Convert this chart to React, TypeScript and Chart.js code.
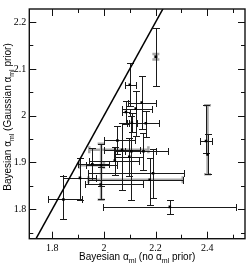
import React, { useEffect, useRef } from "react";
import { Chart, registerables } from "chart.js";

Chart.register(...registerables);

// Axis ranges and ticks
const X_MIN = 1.711;
const X_MAX = 2.546;
const Y_MIN = 1.737;
const Y_MAX = 2.228;
const xMajorTicks = [1.8, 2.0, 2.2, 2.4];
const xTickLabels = ["1.8", "2", "2.2", "2.4"];
const xMinorTicks = [1.9, 2.1, 2.3, 2.5];
const yMajorTicks = [1.8, 1.9, 2.0, 2.1, 2.2];
const yTickLabels = ["1.8", "1.9", "2", "2.1", "2.2"];
const yMinorTicks = [1.75, 1.85, 1.95, 2.05, 2.15];

// Titles (text, subscript) pairs
const xTitleParts: [string, string][] = [["Bayesian α", "ml"], [" (no α", "ml"], [" prior)", ""]];
const yTitleParts: [string, string][] = [["Bayesian α", "ml"], [" (Gaussian α", "ml"], [" prior)", ""]];

// Points: value and error bounds
const ptX = [2.201, 2.100, 2.146, 2.123, 2.085, 2.162, 2.108, 2.052, 2.070, 2.106, 2.153, 2.098, 2.042, 1.955, 1.989, 1.987, 1.907, 1.843, 2.190, 2.177, 2.255, 2.395, 2.401];
const ptY = [2.126, 2.066, 2.028, 2.015, 2.008, 1.984, 1.985, 1.947, 1.927, 1.924, 1.924, 1.912, 1.904, 1.896, 1.894, 1.853, 1.867, 1.821, 1.877, 1.863, 1.805, 1.946, 1.917];
const ptXLo = [2.201, 2.083, 2.092, 2.070, 2.070, 2.096, 2.088, 2.000, 2.000, 2.040, 2.080, 2.040, 1.943, 1.900, 1.930, 1.925, 1.840, 1.783, 1.940, 1.940, 1.997, 2.370, 2.401];
const ptXHi = [2.201, 2.123, 2.200, 2.187, 2.100, 2.213, 2.128, 2.120, 2.140, 2.200, 2.248, 2.150, 2.134, 2.020, 2.050, 2.150, 1.970, 1.915, 2.308, 2.305, 2.512, 2.417, 2.401];
const ptYLo = [2.064, 2.020, 1.972, 1.956, 1.983, 1.955, 1.965, 1.917, 1.842, 1.820, 1.884, 1.872, 1.874, 1.863, 1.850, 1.821, 1.820, 1.780, 1.825, 1.810, 1.789, 1.920, 1.875];
const ptYHi = [2.188, 2.113, 2.084, 2.053, 2.032, 2.010, 2.005, 1.977, 1.985, 2.000, 1.964, 1.952, 1.934, 1.930, 1.940, 1.890, 1.910, 1.870, 1.929, 1.910, 1.820, 2.022, 1.960];

// Second (grey) error estimates
const grX = [1.989, 2.070, 2.177, 2.401, 2.201];
const grY = [1.894, 1.927, 1.863, 1.917, 2.126];
const grXLo = [1.905, 1.943, 1.940, 2.401, 2.198];
const grXHi = [2.000, 2.172, 2.305, 2.401, 2.204];
const grYLo = [1.820, 1.927, 1.863, 1.875, 2.120];
const grYHi = [1.940, 1.927, 1.863, 2.022, 2.132];

// y = x reference line endpoints
const diagVals = [1.7, 2.3];

function drawBars(ctx: CanvasRenderingContext2D, xs: any, ys: any, X: number[], Y: number[], XL: number[], XH: number[], YL: number[], YH: number[], color: string, lw: number, cap: number) {
  ctx.strokeStyle = color;
  ctx.lineWidth = lw;
  const r = (v: number) => (lw % 2 === 1 ? Math.round(v) + 0.5 : v);
  for (let i = 0; i < X.length; i++) {
    const px = r(xs.getPixelForValue(X[i]));
    const py = r(ys.getPixelForValue(Y[i]));
    ctx.beginPath();
    if (XL[i] !== XH[i]) {
      const a = r(xs.getPixelForValue(XL[i]));
      const b = r(xs.getPixelForValue(XH[i]));
      ctx.moveTo(a, py); ctx.lineTo(b, py);
      ctx.moveTo(a, py - cap); ctx.lineTo(a, py + cap);
      ctx.moveTo(b, py - cap); ctx.lineTo(b, py + cap);
    }
    if (YL[i] !== YH[i]) {
      const a = r(ys.getPixelForValue(YL[i]));
      const b = r(ys.getPixelForValue(YH[i]));
      ctx.moveTo(px, a); ctx.lineTo(px, b);
      ctx.moveTo(px - cap, a); ctx.lineTo(px + cap, a);
      ctx.moveTo(px - cap, b); ctx.lineTo(px + cap, b);
    }
    ctx.stroke();
  }
}

function drawTitle(ctx: CanvasRenderingContext2D, parts: [string, string][]) {
  const main = '10px "Liberation Sans", Arial, sans-serif';
  const sub = '7px "Liberation Sans", Arial, sans-serif';
  let w = 0;
  for (const [t, s] of parts) {
    ctx.font = main; w += ctx.measureText(t).width;
    ctx.font = sub; w += ctx.measureText(s).width;
  }
  let x = -w / 2;
  ctx.fillStyle = "#000";
  ctx.textAlign = "left";
  ctx.textBaseline = "alphabetic";
  for (const [t, s] of parts) {
    ctx.font = main; ctx.fillText(t, x, 0); x += ctx.measureText(t).width;
    ctx.font = sub; ctx.fillText(s, x, 3); x += ctx.measureText(s).width;
  }
}

const framePlugin = {
  id: "frameAndBars",
  beforeDatasetsDraw(chart: any) {
    const { ctx, chartArea: ca, scales } = chart;
    ctx.save();
    ctx.beginPath();
    ctx.rect(ca.left, ca.top, ca.right - ca.left, ca.bottom - ca.top);
    ctx.clip();
    drawBars(ctx, scales.x, scales.y, grX, grY, grXLo, grXHi, grYLo, grYHi, "#a8a8a8", 2.5, 3.5);
    drawBars(ctx, scales.x, scales.y, ptX, ptY, ptXLo, ptXHi, ptYLo, ptYHi, "#1a1a1a", 1, 3.5);
    ctx.restore();
  },
  afterDraw(chart: any) {
    const { ctx, chartArea: ca, scales } = chart;
    const xs = scales.x, ys = scales.y;
    ctx.save();
    ctx.strokeStyle = "#111";
    ctx.lineWidth = 1.4;
    ctx.strokeRect(ca.left, ca.top, ca.right - ca.left, ca.bottom - ca.top);
    ctx.lineWidth = 1;
    ctx.beginPath();
    const xt = (v: number, len: number) => {
      const p = Math.round(xs.getPixelForValue(v)) + 0.5;
      ctx.moveTo(p, ca.bottom); ctx.lineTo(p, ca.bottom - len);
      ctx.moveTo(p, ca.top); ctx.lineTo(p, ca.top + len);
    };
    const yt = (v: number, len: number) => {
      const p = Math.round(ys.getPixelForValue(v)) + 0.5;
      ctx.moveTo(ca.left, p); ctx.lineTo(ca.left + len, p);
      ctx.moveTo(ca.right, p); ctx.lineTo(ca.right - len, p);
    };
    xMajorTicks.forEach((v) => xt(v, 7));
    xMinorTicks.forEach((v) => xt(v, 4));
    yMajorTicks.forEach((v) => yt(v, 7));
    yMinorTicks.forEach((v) => yt(v, 4));
    ctx.stroke();

    ctx.save();
    ctx.translate((ca.left + ca.right) / 2, 260);
    drawTitle(ctx, xTitleParts);
    ctx.restore();

    ctx.save();
    ctx.translate(10.5, 117);
    ctx.rotate(-Math.PI / 2);
    drawTitle(ctx, yTitleParts);
    ctx.restore();
    ctx.restore();
  },
};

export default function App() {
  const ref = useRef<HTMLCanvasElement>(null);
  useEffect(() => {
    document.body.style.margin = "0";
    const points = ptX.map((x, i) => ({ x, y: ptY[i] }));
    const diag = diagVals.map((v) => ({ x: v, y: v }));
    const chart = new Chart(ref.current!, {
      type: "scatter",
      data: {
        datasets: [
          {
            type: "line",
            data: diag,
            borderColor: "#000",
            borderWidth: 1.5,
            pointRadius: 0,
            showLine: true,
          } as any,
          {
            data: points,
            pointStyle: "rect",
            pointRadius: 1.8,
            backgroundColor: "#000",
            borderWidth: 0,
          },
        ],
      },
      options: {
        animation: false,
        responsive: false,
        events: [],
        layout: { padding: { top: 1.7, right: 1, left: 0, bottom: 0 } },
        plugins: { legend: { display: false }, tooltip: { enabled: false } },
        scales: {
          x: {
            type: "linear",
            min: X_MIN,
            max: X_MAX,
            grid: { display: false, drawTicks: false },
            border: { display: false },
            afterBuildTicks: (s: any) => {
              s.ticks = xMajorTicks.map((v) => ({ value: v }));
            },
            afterFit: (s: any) => {
              s.height = 25.3;
            },
            ticks: {
              autoSkip: false,
              maxRotation: 0,
              padding: 4,
              color: "#000",
              font: { family: '"Liberation Serif", "Times New Roman", serif', size: 10 },
              callback: (v: any) => {
                const i = xMajorTicks.findIndex((t) => Math.abs(t - Number(v)) < 1e-6);
                return i >= 0 ? xTickLabels[i] : "";
              },
            },
          },
          y: {
            type: "linear",
            min: Y_MIN,
            max: Y_MAX,
            grid: { display: false, drawTicks: false },
            border: { display: false },
            afterBuildTicks: (s: any) => {
              s.ticks = yMajorTicks.map((v) => ({ value: v }));
            },
            afterFit: (s: any) => {
              s.width = 29.3;
            },
            ticks: {
              autoSkip: false,
              padding: 3,
              color: "#000",
              font: { family: '"Liberation Serif", "Times New Roman", serif', size: 10 },
              callback: (v: any) => {
                const i = yMajorTicks.findIndex((t) => Math.abs(t - Number(v)) < 1e-6);
                return i >= 0 ? yTickLabels[i] : "";
              },
            },
          },
        },
      },
      plugins: [framePlugin],
    });
    return () => chart.destroy();
  }, []);
  return (
    <canvas
      ref={ref}
      width={249}
      height={264}
      style={{ display: "block", position: "fixed", left: 0, top: 0, width: 249, height: 264 }}
    />
  );
}
